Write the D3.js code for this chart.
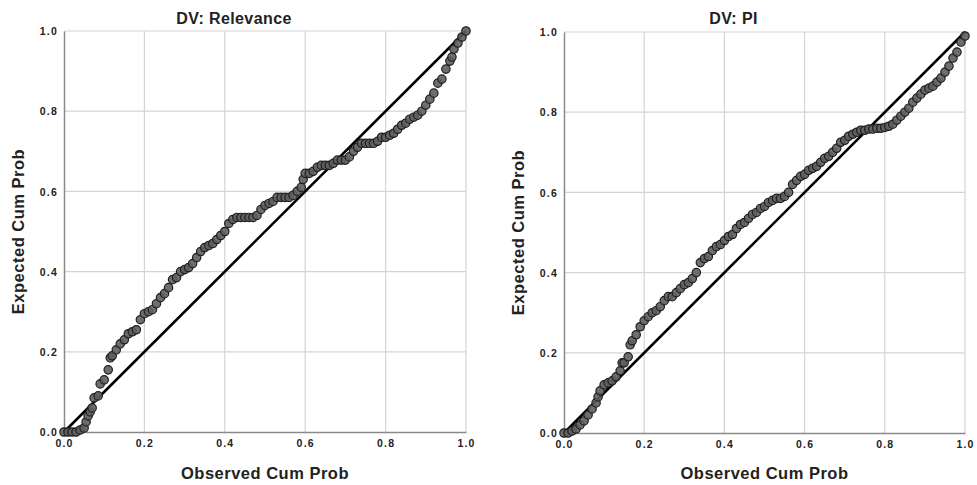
<!DOCTYPE html>
<html>
<head>
<meta charset="utf-8">
<script src="https://cdn.jsdelivr.net/npm/d3@7"></script>
<style>
  body { margin: 0; background: #fff; }
  svg text { font-family: "Liberation Sans", Arial, sans-serif; font-weight: bold; fill: #222; }
</style>
</head>
<body>
<div id="vizContainer"></div>
<script>
let w = 977;
let h = 485;

// tick labels
let ticks = [0, 0.2, 0.4, 0.6, 0.8, 1.0];

// DV: Relevance (observed / expected cum prob)
let relObs = [0.00,0.01,0.02,0.03,0.04,0.05,0.055,0.06,0.065,0.07,0.075,0.085,0.09,0.10,0.11,0.115,0.12,0.13,0.14,0.15,
  0.16,0.17,0.18,0.19,0.20,0.21,0.22,0.23,0.24,0.25,0.26,0.27,0.28,0.29,0.30,0.31,0.32,0.33,0.34,0.35,
  0.36,0.37,0.38,0.39,0.40,0.41,0.42,0.43,0.44,0.45,0.46,0.47,0.48,0.49,0.50,0.51,0.52,0.53,0.54,0.55,
  0.56,0.57,0.58,0.59,0.595,0.60,0.61,0.62,0.63,0.64,0.65,0.66,0.67,0.68,0.69,0.70,0.71,0.72,0.73,0.74,
  0.75,0.76,0.77,0.78,0.79,0.80,0.81,0.82,0.83,0.84,0.85,0.86,0.87,0.88,0.89,0.90,0.91,0.92,0.93,0.94,
  0.95,0.96,0.965,0.97,0.98,0.99,1.00];
let relExp = [0.00,0.00,0.00,0.00,0.005,0.01,0.025,0.04,0.05,0.06,0.085,0.09,0.12,0.13,0.155,0.185,0.19,0.205,0.22,0.23,
  0.245,0.25,0.255,0.28,0.295,0.30,0.305,0.32,0.335,0.345,0.36,0.38,0.385,0.40,0.405,0.41,0.42,0.435,0.45,0.46,
  0.465,0.47,0.48,0.49,0.50,0.52,0.53,0.535,0.535,0.535,0.535,0.535,0.54,0.555,0.565,0.57,0.575,0.585,0.585,0.585,
  0.585,0.59,0.60,0.61,0.63,0.645,0.645,0.65,0.66,0.665,0.665,0.665,0.67,0.678,0.678,0.678,0.686,0.70,0.71,0.72,
  0.72,0.72,0.72,0.725,0.735,0.735,0.74,0.745,0.755,0.765,0.77,0.78,0.785,0.79,0.80,0.815,0.83,0.845,0.87,0.88,
  0.905,0.925,0.935,0.955,0.97,0.985,1.00];

// DV: PI
let piObs = [0.00,0.01,0.02,0.03,0.04,0.05,0.06,0.07,0.08,0.085,0.09,0.10,0.11,0.12,0.13,0.14,0.145,0.15,0.16,0.165,
  0.17,0.18,0.19,0.20,0.21,0.22,0.23,0.24,0.25,0.26,0.27,0.28,0.29,0.30,0.31,0.32,0.33,0.34,0.35,0.36,
  0.37,0.38,0.39,0.40,0.41,0.42,0.43,0.44,0.45,0.46,0.47,0.48,0.49,0.50,0.51,0.52,0.53,0.54,0.55,0.56,
  0.57,0.58,0.59,0.60,0.61,0.62,0.63,0.64,0.65,0.66,0.67,0.68,0.69,0.70,0.71,0.72,0.73,0.74,0.75,0.76,
  0.77,0.78,0.79,0.80,0.81,0.82,0.83,0.84,0.85,0.86,0.87,0.88,0.89,0.90,0.91,0.92,0.93,0.94,0.95,0.96,
  0.97,0.98,0.99,1.00];
let piExp = [0.00,0.00,0.005,0.01,0.02,0.03,0.045,0.06,0.075,0.09,0.105,0.12,0.125,0.13,0.14,0.155,0.175,0.175,0.19,0.22,
  0.23,0.245,0.265,0.28,0.29,0.30,0.305,0.315,0.33,0.34,0.34,0.35,0.36,0.37,0.375,0.385,0.40,0.425,0.435,0.44,
  0.455,0.465,0.47,0.48,0.49,0.495,0.51,0.52,0.525,0.535,0.545,0.55,0.56,0.565,0.575,0.58,0.585,0.585,0.59,0.60,
  0.62,0.63,0.64,0.645,0.655,0.66,0.665,0.675,0.685,0.69,0.70,0.71,0.725,0.73,0.74,0.745,0.75,0.755,0.755,0.758,
  0.758,0.76,0.76,0.762,0.765,0.77,0.78,0.79,0.80,0.81,0.825,0.835,0.845,0.855,0.86,0.865,0.875,0.885,0.90,0.915,
  0.935,0.95,0.975,0.99];

let panels = [
  {title: "DV: Relevance", obs: relObs, exp: relExp, x0: 64, x1: 466, y0: 432, y1: 31},
  {title: "DV: PI", obs: piObs, exp: piExp, x0: 564, x1: 965, y0: 433, y1: 32}
];

let viz = d3.select("#vizContainer").append("svg")
    .attr("width", w)
    .attr("height", h)
;

panels.forEach(p=>{
  let g = viz.append("g");
  let xScale = d3.scaleLinear().domain([0, 1]).range([p.x0, p.x1]);
  let yScale = d3.scaleLinear().domain([0, 1]).range([p.y0, p.y1]);

  // grid
  g.selectAll(".vgrid").data(ticks.slice(1)).enter().append("line")
    .attr("x1", d=>xScale(d)).attr("x2", d=>xScale(d))
    .attr("y1", p.y0).attr("y2", p.y1)
    .attr("stroke", "#d4d4d4").attr("stroke-width", 1.2);
  g.selectAll(".hgrid").data(ticks.slice(1)).enter().append("line")
    .attr("x1", p.x0).attr("x2", p.x1)
    .attr("y1", d=>yScale(d)).attr("y2", d=>yScale(d))
    .attr("stroke", "#d4d4d4").attr("stroke-width", 1.2);

  // axes
  let xAxis = d3.axisBottom(xScale).tickValues(ticks).tickFormat(d3.format(".1f")).tickSize(0).tickPadding(8);
  let xAxisGroup = g.append("g").attr("transform", "translate(0,"+p.y0+")").call(xAxis);
  let yAxis = d3.axisLeft(yScale).tickValues(ticks).tickFormat(d3.format(".1f")).tickSize(0).tickPadding(6);
  let yAxisGroup = g.append("g").attr("transform", "translate("+p.x0+",0)").call(yAxis);
  [xAxisGroup, yAxisGroup].forEach(a=>{
    a.select(".domain").attr("stroke", "#8a8a8a").attr("stroke-width", 1.5);
    a.selectAll("text")
      .style("font-family", "'Liberation Sans', Arial, sans-serif")
      .style("font-weight", "bold")
      .style("font-size", "10.5px")
      .style("letter-spacing", "1.2px")
      .attr("fill", "#333");
  });
  yAxisGroup.selectAll("text").attr("dy", "0.35em");

  // reference line
  g.append("line")
    .attr("x1", xScale(0)).attr("y1", yScale(0))
    .attr("x2", xScale(1)).attr("y2", yScale(1))
    .attr("stroke", "#000").attr("stroke-width", 2.6);

  // points
  let pts = p.obs.map((d,i)=>({x: d, y: p.exp[i]}));
  g.selectAll(".pt").data(pts).enter().append("circle")
    .attr("cx", d=>xScale(d.x))
    .attr("cy", d=>yScale(d.y))
    .attr("r", 4.2)
    .attr("fill", "#5e5e5e")
    .attr("fill-opacity", 0.9)
    .attr("stroke", "#1e1e1e")
    .attr("stroke-width", 1.2);

  // titles
  let cx = (p.x0+p.x1)/2;
  g.append("text")
    .attr("x", cx-31).attr("y", 24)
    .attr("text-anchor", "middle")
    .style("font-size", "16px")
    .style("letter-spacing", "0.4px")
    .text(p.title);
  g.append("text")
    .attr("x", cx).attr("y", 479)
    .attr("text-anchor", "middle")
    .style("font-size", "16.5px")
    .style("letter-spacing", "0.5px")
    .text("Observed Cum Prob");
  g.append("text")
    .attr("transform", "translate("+(p.x0-40)+","+((p.y0+p.y1)/2)+") rotate(-90)")
    .attr("text-anchor", "middle")
    .style("font-size", "16.5px")
    .style("letter-spacing", "0.5px")
    .text("Expected Cum Prob");
});
</script>
</body>
</html>
